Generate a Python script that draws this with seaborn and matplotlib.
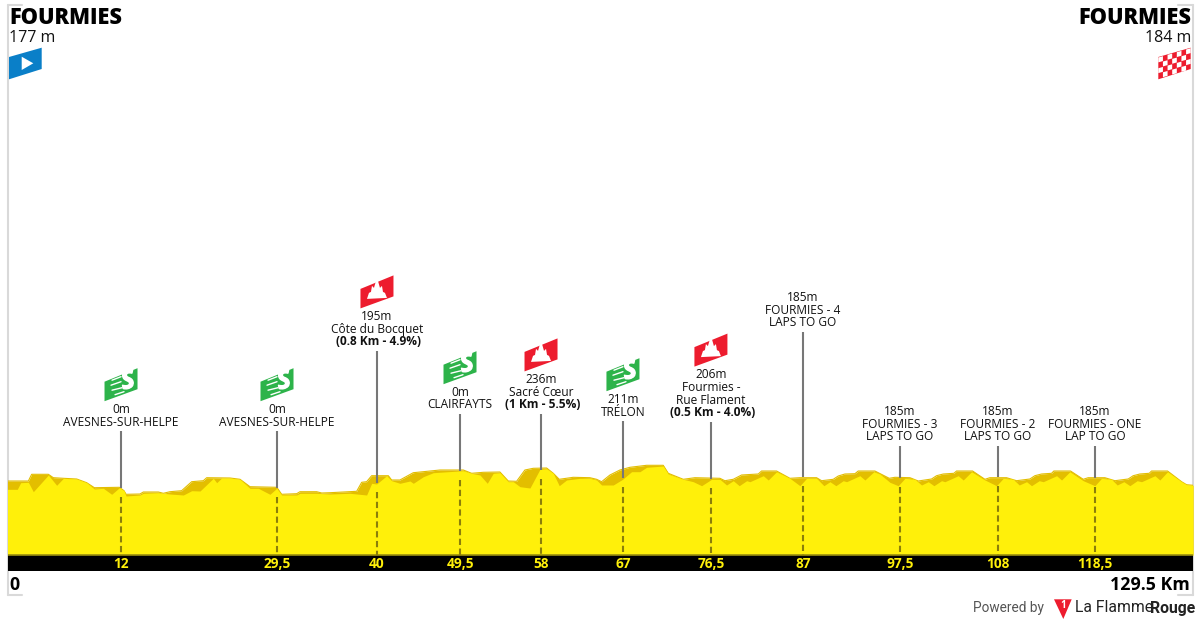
import numpy as np
import matplotlib
matplotlib.use("Agg")
import matplotlib.pyplot as plt
import matplotlib.patheffects as pe
from matplotlib.patches import Polygon
from matplotlib.transforms import Affine2D
import seaborn as sns

# Back (darker) profile: distance km, height
back_km = [0,2.28,2.64,4.46,5.01,6.10,7.56,8.65,9.49,12.22,12.73,12.95,14.47,14.84,16.48,17.02,17.75,19.02,20.12,21.39,21.76,24.31,25.40,26.49,29.41,29.95,31.59,31.95,33.77,34.32,35.23,38.14,38.69,39.23,39.78,41.60,41.96,42.87,
           44.33,45.42,47.24,49.79,50.70,51.97,53.79,54.70,55.61,56.52,57.43,58.89,59.62,60.27,61.80,63.62,64.35,64.90,65.81,66.90,67.99,69.81,71.63,72.18,73.82,75.09,77.82,78.37,79.28,80.19,82.01,82.37,84.01,85.47,86.56,
           88.38,88.93,90.20,90.75,91.48,92.57,92.93,94.75,96.32,96.94,98.58,99.49,100.94,101.49,102.22,103.38,103.67,105.42,106.77,107.31,109.13,110.23,111.68,112.23,112.96,114.05,114.30,116.12,117.51,118.05,119.87,120.97,122.42,122.97,123.70,124.72,124.97,126.72,128.25,128.80,129.5]
back_m = [174,174,180.7,180.7,177.3,176.7,176,172.3,167.3,167.7,164.3,160.7,161,163,163,161.7,163.3,164.3,173.3,174.3,177.3,177,175.7,168.3,167.7,160.7,161.3,163.3,163.3,162,162.3,163.7,172.7,173.3,179.3,179.3,175,175,
          182.3,183.3,185,185,181.7,182.7,183,174,173.7,185,186.7,187,181.7,175.7,177.7,177.3,175.7,173.3,180,185,187.7,189.7,189.7,181.7,175.7,177.3,176.7,174.3,175.7,180,181,184,184,176.7,177.3,
          177.3,174.3,175.7,179,181,181.3,184,184,176.7,177.7,177.3,174,176,179.3,181,181.7,184,184,175.7,177.3,177.3,174.3,176,179.3,181,181.7,184,184,175.7,177.3,177.3,174.3,176,179.3,181,181.7,184,184,173.3,170.3,169.7]

# Front (bright) profile
front_km = [0,1.07,1.44,2.28,2.82,4.46,5.37,6.10,7.56,8.65,9.49,10.47,11.38,12.22,12.73,12.95,14.47,14.84,16.48,17.75,19.21,20.12,21.03,22.48,22.85,23.39,24.31,25.40,26.49,27.40,28.67,29.41,29.95,31.59,31.95,33.77,35.23,37.41,39.23,39.78,40.32,41.42,41.96,
            42.87,43.96,44.33,45.42,46.51,49.79,50.70,51.61,52.41,53.06,53.79,54.70,55.25,55.98,57.07,58.16,58.89,59.62,60.27,61.07,62.53,63.62,64.35,64.90,66.17,67.19,68.17,69.08,69.81,71.63,72.18,73.82,74.91,75.82,76.91,77.82,78.55,79.28,79.93,80.74,81.10,82.56,83.10,84.01,85.47,
            86.56,87.29,88.38,89.18,89.84,90.49,91.29,91.66,93.11,93.66,94.64,95.30,96.39,97.30,98.03,99.12,99.85,100.58,101.20,102.03,102.40,103.85,104.40,105.31,106.77,108.04,108.77,109.86,110.52,111.32,111.86,112.70,113.14,114.60,115.14,116.05,117.51,118.78,119.51,120.60,121.22,121.95,122.60,123.40,123.88,125.34,125.88,126.72,128.25,128.80,129.5]
front_m = [165.7,165.7,172.3,172.7,163.3,180,169.7,176.7,176,172.3,166,166.7,160.7,167.3,164.3,159,160,161.7,162.3,161,160,164.3,164,176.7,172.3,177,177,175.7,166.7,166.7,160.7,166.7,160,160,161.7,161.7,161,161.7,160,171.7,171,179.3,174.3,
           171.7,174,171.7,178.3,182.3,184.3,181.7,180,171.7,181.7,182.3,173.3,173.3,168.3,167,185.7,186.3,181.7,169.3,175,176.7,176.7,175,170,170,175.7,183.3,183.3,187.7,189,181,175.7,173.3,169.3,175.7,175.7,170,174.3,169.3,174.3,173.3,179.3,175,183.3,176.7,
           169.3,176.7,176.7,169.3,173.3,169.3,174.3,173.3,179.3,175,183.3,181,172.7,169.3,176.7,175.7,170,173.3,169.3,174.3,173.3,179.3,175,183.3,175,169.3,176.7,175.7,170,173.3,169.3,174.3,173.3,179.3,175,183.3,174.3,169.3,176.7,175.7,170,173.3,169.3,174.3,173.3,179.3,175,183.3,173.3,170.3,169.7]

# Waypoints
point_km = [12.40,29.44,40.36,49.43,58.28,67.23,76.84,86.89,97.49,108.19,118.79]
point_top = [224,224,304,241,241,234,233,323,209,209,209]
point_ground = [167.3,166.7,171.7,184.3,185,176.7,175.7,177.7,177.3,177.7,177.3]
point_ticks = ["12","29,5","40","49,5","58","67","76,5","87","97,5","108","118,5"]
point_kind = ["sprint","sprint","climb","sprint","climb","sprint","climb","","","",""]
point_text = [["0m","AVESNES-SUR-HELPE"],
              ["0m","AVESNES-SUR-HELPE"],
              ["195m","Côte du Bocquet","(0.8 Km - 4.9%)"],
              ["0m","CLAIRFAYTS"],
              ["236m","Sacré Cœur","(1 Km - 5.5%)"],
              ["211m","TRÉLON"],
              ["206m","Fourmies -","Rue Flament","(0.5 Km - 4.0%)"],
              ["185m","FOURMIES - 4","LAPS TO GO"],
              ["185m","FOURMIES - 3","LAPS TO GO"],
              ["185m","FOURMIES - 2","LAPS TO GO"],
              ["185m","FOURMIES - ONE","LAP TO GO"]]
total_km = 129.5
start_name, start_alt = "FOURMIES", "177 m"
finish_name, finish_alt = "FOURMIES", "184 m"

YELLOW, DARK = "#FFF00A", "#E3BE00"
W, H = 1200, 625

sns.set_theme(style="white")
plt.rcParams["font.family"] = ["Open Sans", "DejaVu Sans"]
fig = plt.figure(figsize=(12, 6.25), dpi=100, facecolor="white")
ax = fig.add_axes([7.5/W, 1-595/H, (1193-7.5)/W, 590/H])
ax.set_xlim(0, total_km)
ax.set_ylim(60, 650)
ax.set_axis_off()

sns.lineplot(x=back_km, y=back_m, ax=ax, color=DARK, lw=0.8, estimator=None, zorder=2)
ax.fill_between(back_km, 100, back_m, color=DARK, lw=0, zorder=2)
ax.fill_between(front_km, 100, front_m, color=YELLOW, lw=0, zorder=3)
ax.axhline(100, color="#9A8F10", lw=1.2, zorder=5)
ax.fill_between([0, total_km], 84, 100, color="black", lw=0, zorder=4)

def poly(km, y, pts, color, z=8):
    tr = Affine2D().scale(1, -1).translate(*ax.transData.transform((km, y)))
    ax.add_patch(Polygon(pts, closed=True, transform=tr, facecolor=color, edgecolor="none", clip_on=False, zorder=z))

def label(km, y, dy, s, dx=0, **kw):
    kw.setdefault("fontsize", 8.6)
    kw.setdefault("color", "#111111")
    kw.setdefault("ha", "center")
    return ax.annotate(s, (km, y), xytext=(dx, -dy), textcoords="offset pixels", va="center", annotation_clip=False, zorder=9, **kw)

FLAG = [(-16.5, -3), (16.5, -16.5), (16.5, 4.5), (-16.5, 16.5)]
PEAK = [(-10, 7), (-8, 1), (-6, 0), (-5, -6), (-3, -4), (-1, -11), (1, -11), (3, -4), (5, -6), (6, 0), (8, 1), (10, 6)]
SPEED = [((-9, -4.5), (0, -8)), ((-10, 0.5), (0, -3)), ((-9, 5.5), (1, 3)), ((-6, 10), (3, 7))]

for km, top, ground, tick, kind, lines in zip(point_km, point_top, point_ground, point_ticks, point_kind, point_text):
    ax.plot([km, km], [ground, top], color="#777777", lw=1.5, zorder=6, solid_capstyle="butt")
    ax.plot([km, km], [ground - 9, 100], color="#8B7E0A", lw=1.5, ls=(0, (3, 1.7)), zorder=6)
    ax.text(km, 91.5, tick, color=YELLOW, fontsize=9.8, fontweight="bold", ha="center", va="center", zorder=7)
    n = len(lines)
    for i, s in enumerate(lines):
        bold = s.startswith("(")
        label(km, top, -9 - 12.8*(n-1-i), s, dx=1.5 if bold else 0, fontweight="bold" if bold else "normal")
    first = -9.5 - 12.8*(n-1) - 24
    if kind == "climb":
        poly(km, top, [(x, y+first) for x, y in FLAG], "#ED1C2E")
        poly(km, top, [(x, y+first) for x, y in PEAK], "white", z=9)
    elif kind == "sprint":
        poly(km, top, [(x, y+first) for x, y in FLAG], "#2DB34A")
        tr = Affine2D().scale(1, -1).translate(*ax.transData.transform((km, top)))
        for a, b in SPEED:
            ax.plot([a[0], b[0]], [a[1]+first, b[1]+first], color="white", lw=1.0, transform=tr, clip_on=False, zorder=9)
        t = label(km, top, first-3, "S", dx=7, fontsize=18, color="white", fontweight="bold", style="italic", rotation=12)
        t.set_path_effects([pe.withStroke(linewidth=1.0, foreground="white")])

# Frame brackets
grey = "#D9D9D9"
for xs, ys in [([0, 0], [60, 650]), ([0, 1.6], [650, 650]), ([0, 1.6], [60, 60]),
               ([total_km, total_km], [60, 650]), ([total_km-1.6, total_km], [650, 650]), ([total_km-1.6, total_km], [60, 60])]:
    ax.plot(xs, ys, color=grey, lw=1.5, clip_on=False, zorder=1)

# Header
label(0, 650, 13.5, start_name, dx=1.5, fontsize=15.7, fontweight="heavy", color="black", ha="left")
label(0, 650, 33, start_alt, dx=1.5, fontsize=11.5, ha="left")
label(total_km, 650, 13.5, finish_name, dx=-2, fontsize=15.7, fontweight="heavy", color="black", ha="right")
label(total_km, 650, 33, finish_alt, dx=-2, fontsize=11.5, ha="right")

# Start flag
poly(0, 650, [(1.5, 52), (34.2, 42.7), (34.2, 64), (1.5, 74.3)], "#0A7FC8")
poly(0, 650, [(14.2, 51.7), (25.8, 58.3), (14.2, 65)], "white", z=9)

# Finish flag
corner = (-34.7, 52)
poly(total_km, 650, [(-34.7, 52), (-2.3, 42.7), (-2.3, 64), (-34.7, 74.3)], "#ED1C2E")
cols, rows = 7, 4
cw, ch = 32.4/cols, 21.5/rows
slope = -9.3/32.4
for c in range(cols):
    for r in range(rows):
        if (c + r) % 2 == 0:
            x0 = corner[0] + c*cw
            y0 = corner[1] + r*ch + c*cw*slope
            poly(total_km, 650, [(x0, y0+0.5), (x0+cw, y0+cw*slope+0.5), (x0+cw, y0+cw*slope+ch), (x0, y0+ch)], "white", z=9)

# Footer
label(0, 60, -9.5, "0", dx=2, fontsize=12.8, fontweight="bold", color="black", ha="left")
label(total_km, 60, -9.5, "129.5 Km", dx=-3, fontsize=12.8, fontweight="bold", color="black", ha="right")
fig.text(973/W, 1-608/H, "Powered by", fontsize=9.8, color="#555555", family="Roboto", va="center", ha="left")
fig.text(1075/W, 1-608/H, "La Flamme", fontsize=11.3, color="#222222", family="Roboto", va="center", ha="left")
fig.text(1195/W, 1-608/H, "Rouge", fontsize=11.3, color="#222222", family="Roboto", fontweight="bold", va="center", ha="right")
poly(total_km, 60, [(-139, 4.3), (-121.3, 4.3), (-129.7, 24)], "#ED1C2E")
label(total_km, 60, 10.5, "1", dx=-130.3, fontsize=7, color="white", fontweight="bold")

fig.savefig("out.png", dpi=100, facecolor="white")
